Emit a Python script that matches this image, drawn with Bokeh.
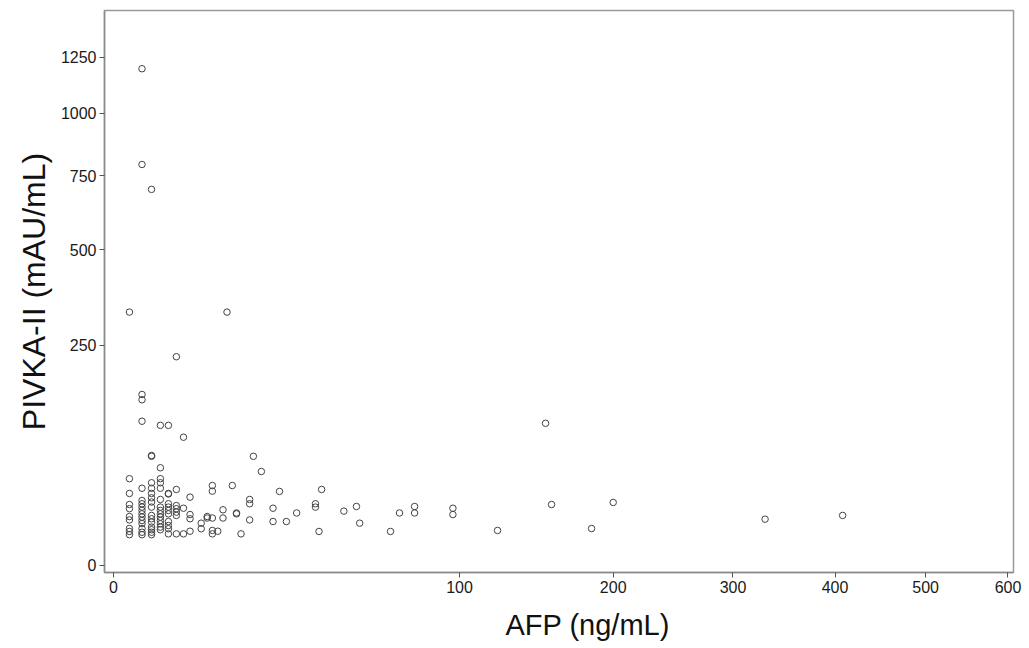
import numpy as np
from bokeh.plotting import figure
from bokeh.models import ColumnDataSource, FixedTicker, Range1d, CustomJSTickFormatter, Title
from bokeh.embed import file_html
from bokeh.resources import INLINE

# ---- data ----
afp = [
    0.3, 0.3, 0.3, 0.3, 0.3, 0.3, 0.3, 0.3, 0.3, 0.3,
    0.9, 0.9, 0.9, 0.9, 0.9, 0.9, 0.9, 0.9, 0.9, 0.9, 0.9, 0.9, 0.9, 0.9, 0.9, 0.9, 0.9,
    1.55, 1.55, 1.55, 1.55, 1.55, 1.55, 1.55, 1.55, 1.55, 1.55, 1.55, 1.55, 1.55, 1.55, 1.55, 1.55,
    2.3, 2.3, 2.3, 2.3, 2.3, 2.3, 2.3, 2.3, 2.3, 2.3, 2.3, 2.3, 2.3, 2.3,
    3.1, 3.1, 3.1, 3.1, 3.1, 3.1, 3.1, 3.1, 3.1, 3.1, 3.1,
    4.0, 4.0, 4.0, 4.0, 4.0, 4.0, 4.0,
    4.9, 4.9, 4.9,
    5.8, 5.8, 5.8, 5.8,
    7.5, 7.5,
    8.5, 8.5,
    9.4, 9.4, 9.4, 9.4, 9.4,
    10.4,
    11.4, 11.4,
    12.2,
    13.3,
    14.2, 14.2,
    15.2,
    17.2, 17.2, 17.2,
    18.1,
    20.1,
    23.2, 23.2,
    25.0,
    27.0,
    30.1,
    36.2, 36.2,
    37.4,
    38.3,
    46.4,
    51.3,
    52.6,
    65.7,
    69.8,
    76.9, 76.9,
    96.4, 96.4,
    121.7,
    152,
    156,
    184,
    200,
    330,
    408,
]
pivka = [
    328, 41.8, 29.2, 21.2, 18.5, 13.9, 12.1, 8.1, 6.9, 5.7,
    1197, 793, 154, 145, 111, 33.4, 24.0, 21.7, 19.5, 17.4, 15.4, 13.6, 11.8, 10.3, 8.1, 6.6, 5.7,
    701, 65.9, 65.0, 38.1, 33.4, 29.2, 25.9, 22.9, 19.5, 14.5, 12.7, 11.0, 8.7, 7.6, 6.6, 5.7,
    105, 52.5, 41.8, 38.1, 33.4, 24.7, 19.5, 17.4, 15.4, 13.6, 11.8, 10.2, 8.7, 7.6,
    105, 29.2, 28.8, 21.7, 19.5, 17.4, 15.4, 11.3, 9.4, 8.0, 6.0,
    226, 32.4, 20.5, 18.5, 16.4, 14.5, 6.0,
    88.6, 18.8, 6.0,
    26.4, 15.0, 12.7, 7.0,
    10.5, 8.0,
    13.9, 13.1,
    35.7, 31.0, 13.1, 7.3, 6.0,
    7.0,
    17.8, 13.1,
    328,
    35.7,
    15.9, 15.4,
    6.0,
    24.7, 21.7, 12.1,
    65.0,
    48.7,
    18.8, 11.3,
    30.8,
    11.3,
    15.9,
    21.7, 19.5,
    6.9,
    32.4,
    17.0,
    19.9,
    10.5,
    6.9,
    15.9,
    19.9, 15.9,
    18.8, 15.0,
    7.3,
    108,
    21.2,
    8.1,
    22.6,
    12.5,
    14.5,
]
x_ticks = [0, 100, 200, 300, 400, 500, 600]
y_ticks = [0, 250, 500, 750, 1000, 1250]
x_title = "AFP (ng/mL)"
y_title = "PIVKA-II (mAU/mL)"

# power scales (as in the reference)
PX = 0.53
PY = 0.52

src = ColumnDataSource(dict(
    afp=afp, pivka=pivka,
    tx=[v ** PX for v in afp],
    ty=[v ** PY for v in pivka],
))

p = figure(
    output_backend="svg", toolbar_location=None,
    frame_width=909, frame_height=562,
    min_border_left=104, min_border_right=16, min_border_top=10, min_border_bottom=76,
    x_range=Range1d(-0.299, 29.86), y_range=Range1d(-0.562, 44.54),
    background_fill_color="white", border_fill_color="white",
)
p.xgrid.visible = False
p.ygrid.visible = False
p.outline_line_color = "#9a9a9a"
p.outline_line_width = 1.5

p.scatter("tx", "ty", source=src, size=6.5, marker="circle",
          fill_color=None, line_color="#444444", line_width=1)

p.xaxis.ticker = FixedTicker(ticks=[t ** PX for t in x_ticks])
p.yaxis.ticker = FixedTicker(ticks=[t ** PY for t in y_ticks])
p.xaxis.formatter = CustomJSTickFormatter(
    code="return String(Math.round(Math.pow(Math.max(tick, 0), 1/%s)));" % PX)
p.yaxis.formatter = CustomJSTickFormatter(
    code="return String(Math.round(Math.pow(Math.max(tick, 0), 1/%s)));" % PY)

for ax in (p.xaxis, p.yaxis):
    ax.axis_line_color = "#8a8a8a"
    ax.axis_line_width = 1.5
    ax.major_tick_line_color = "#555555"
    ax.major_tick_in = 0
    ax.major_tick_out = 5
    ax.minor_tick_line_color = None
    ax.major_label_text_font = "Liberation Sans"
    ax.major_label_text_font_size = "16px"
    ax.major_label_text_color = "#1a1a1a"
    ax.axis_label_text_font = "Liberation Sans"
    ax.axis_label_text_font_style = "normal"
    ax.axis_label_text_color = "#111111"

p.yaxis.axis_label = y_title
p.yaxis.axis_label_text_font_size = "32px"
p.yaxis.axis_label_standoff = 6
p.xaxis.major_label_standoff = 3
p.yaxis.major_label_standoff = 3

# x-axis title (sits right of the frame centre in the reference)
p.add_layout(Title(
    text=x_title, align="left", offset=401, standoff=22,
    text_font="Liberation Sans", text_font_size="29px", text_font_style="normal",
    text_color="#111111",
), "below")

open("out.html", "w").write(file_html(p, INLINE))
